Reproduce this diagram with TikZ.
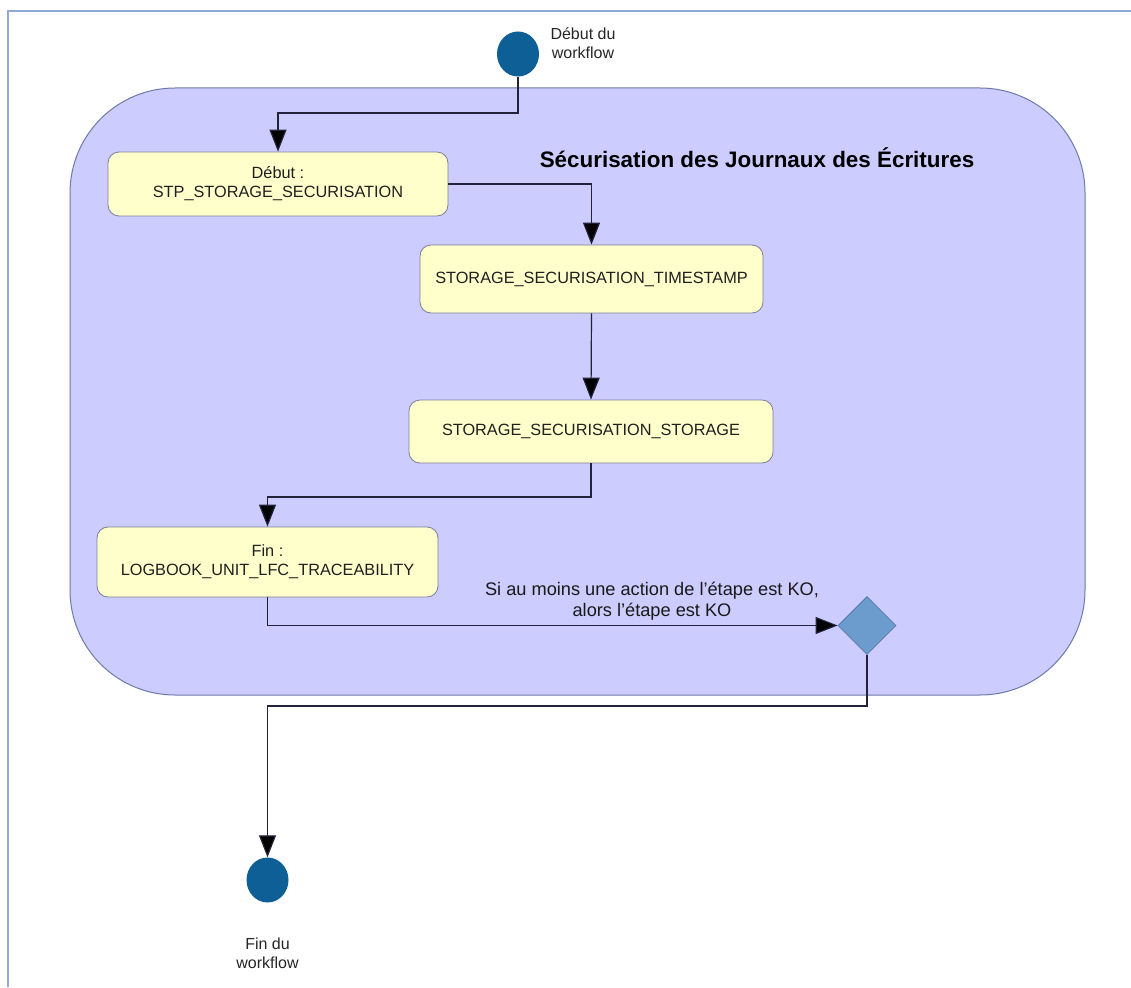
\documentclass[tikz,border=0pt]{standalone}
\usepackage{fontspec}
\setmainfont{Liberation Sans}
\usetikzlibrary{arrows.meta,shapes.geometric}
\definecolor{frameblue}{HTML}{8FAAD8}
\definecolor{groupfill}{HTML}{CCCCFF}
\definecolor{groupdraw}{HTML}{6E7BAA}
\definecolor{boxfill}{HTML}{FFFFCC}
\definecolor{boxdraw}{HTML}{7A7F9A}
\definecolor{termfill}{HTML}{0F5F97}
\definecolor{decfill}{HTML}{6C9BCD}
\definecolor{decdraw}{HTML}{5678A8}
\definecolor{linecol}{HTML}{222238}
\tikzset{
  stepbox/.style={draw=boxdraw, fill=boxfill, rounded corners=11pt, line width=0.8pt,
    align=center, font=\fontsize{16.3}{19}\selectfont, text=black!88, inner sep=0pt},
  term/.style={ellipse, fill=termfill, draw=none, minimum width=42pt, minimum height=45pt, inner sep=0pt},
  decision/.style={diamond, fill=decfill, draw=decdraw, line width=0.8pt, minimum width=58pt, minimum height=58pt, inner sep=0pt},
  lbl/.style={align=center, font=\fontsize{16}{19}\selectfont, text=black!85},
  conn/.style={draw=linecol, line width=1.2pt, -{Triangle[length=22pt,width=17pt,fill=black]}}
}
\begin{document}
\begin{tikzpicture}[x=1pt,y=-1pt]
\useasboundingbox (0,0) rectangle (1131,987);
\fill[white] (0,0) rectangle (1131,987);
% frame
\draw[frameblue, line width=1.2pt] (8,987) -- (8,11) -- (1131,11);
% group
\draw[draw=groupdraw, fill=groupfill, line width=1pt, rounded corners=105pt] (70,88) rectangle (1085,695);
\node[font=\bfseries\fontsize{22.4}{26}\selectfont] (title) at (757,158) {Sécurisation des Journaux des Écritures};
% nodes
\node[term] (start) at (518,54) {};
\node[lbl] (startlbl) at (583,43) {Début du\\workflow};
\node[stepbox, minimum width=340pt, minimum height=64pt] (b1) at (278,184) {Début :\\STP\_STORAGE\_SECURISATION};
\node[stepbox, minimum width=343pt, minimum height=68pt] (b2) at (591.5,279) {STORAGE\_SECURISATION\_TIMESTAMP};
\node[stepbox, minimum width=364pt, minimum height=63pt] (b3) at (591,431.5) {STORAGE\_SECURISATION\_STORAGE};
\node[stepbox, minimum width=341pt, minimum height=70pt] (b4) at (267.5,562) {Fin :\\LOGBOOK\_UNIT\_LFC\_TRACEABILITY};
\node[decision] (dec) at (867,625.5) {};
\node[term] (end) at (267.5,880) {};
\node[lbl] (endlbl) at (267.5,953) {Fin du\\workflow};
\node[lbl, font=\fontsize{18.2}{21}\selectfont, text=black!90] (klbl) at (652,601) {Si au moins une action de l'étape est KO,\\alors l'étape est KO};
% connectors
\coordinate (c1) at (518,113);
\draw[conn] (start.south) -- (c1) -| (b1.north);
\draw[conn] (b1.east) -| (b2.north);
\draw[conn] (b2.south) -- (b3.north);
\coordinate (c4) at (591,497);
\draw[conn] (b3.south) -- (c4) -| (b4.north);
\draw[conn] (b4.south) |- (dec.west);
\coordinate (c6) at (867,706);
\draw[conn] (dec.south) -- (c6) -| (end.north);
\end{tikzpicture}
\end{document}
